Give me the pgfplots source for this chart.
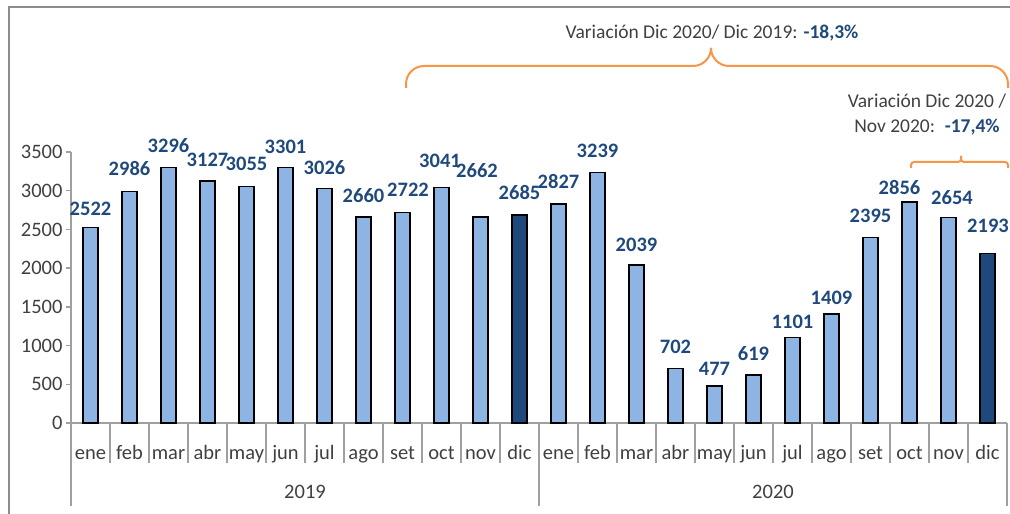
\documentclass[border=0pt]{standalone}
\usepackage{fontspec}
\setmainfont{Carlito}
\usepackage{pgfplots}
\usepackage{pgfplotstable}
\pgfplotsset{compat=1.18}
\definecolor{barlight}{HTML}{8DB4E2}
\definecolor{bardark}{HTML}{1F497D}
\definecolor{lbl}{HTML}{1F497D}
\definecolor{txt}{HTML}{404040}
\definecolor{br}{HTML}{F79646}
\definecolor{ax}{HTML}{A0A0A0}
\definecolor{framec}{HTML}{8C8C8C}
\pgfplotstableread{
x y dy dx
0 2522 12.7 0
1 2986 15.8 0
2 3296 14.8 0
3 3127 14 0
4 3055 15.5 0
5 3301 14.4 0
6 3026 14 0
7 2660 15 0
8 2722 16 5.5
9 3041 20.5 -1.5
10 2662 39 -3.5
12 2827 16 0
13 3239 15 0
14 2039 14 0
15 702 15.6 0
16 477 11 0
17 619 15 0
18 1101 9 0
19 1409 9 0
20 2395 14.6 0
21 2856 7 -10
22 2654 13.5 3.5
}\light
\pgfplotstableread{
x y dy dx
11 2685 16 0
23 2193 21 0.5
}\dark
\newcommand{\fs}{\fontsize{20.5}{24}\selectfont}
\begin{document}
\begin{tikzpicture}[x=1pt,y=1pt]
\path[use as bounding box] (0,0) rectangle (1010,514);
\draw[framec, line width=2pt] (9,-2) -- (9,507) -- (1012,507);
\begin{axis}[
 at={(71pt,91pt)}, anchor=south west,
 scale only axis, width=936pt, height=271pt,
 xmin=-0.5, xmax=23.5, ymin=0, ymax=3500,
 axis x line*=bottom, axis y line*=left,
 axis line style={ax, line width=1.3pt, -},
 ytick={0,500,...,3500},
 xtick={0,...,23},
 xticklabels={ene,feb,mar,abr,may,jun,jul,ago,set,oct,nov,dic,ene,feb,mar,abr,may,jun,jul,ago,set,oct,nov,dic},
 major x tick style={draw=none},
 major y tick style={ax, line width=1.3pt},
 tick align=outside,
 major tick length=5pt,
 ticklabel style={font=\fs, text=txt},
 xticklabel style={anchor=base, yshift=-32pt},
 /pgf/number format/assume math mode=true,
 /pgf/number format/1000 sep={},
 clip=false,
]
\addplot[ybar, bar width=15pt, bar shift=0pt, fill=barlight, draw=black, line width=1.3pt,
  nodes near coords,
  visualization depends on=\thisrow{dy} \as \dy,
  visualization depends on=\thisrow{dx} \as \dx,
  every node near coord/.append style={anchor=base, xshift=\dx pt, yshift=\dy pt, font=\fs\bfseries, text=lbl, line width=0pt}]
  table[x=x, y=y] {\light};
\addplot[ybar, bar width=15pt, bar shift=0pt, fill=bardark, draw=black, line width=1.3pt,
  nodes near coords,
  visualization depends on=\thisrow{dy} \as \dy,
  visualization depends on=\thisrow{dx} \as \dx,
  every node near coord/.append style={anchor=base, xshift=\dx pt, yshift=\dy pt, font=\fs\bfseries, text=lbl, line width=0pt}]
  table[x=x, y=y] {\dark};
\end{axis}
% category separators
\foreach \k in {1,...,11,13,14,...,23} {
  \draw[ax, line width=1.3pt] ({71+39*\k},91) -- ({71+39*\k},51);
}
\foreach \k in {0,12,24} {
  \draw[ax, line width=1.3pt] ({71+39*\k},91) -- ({71+39*\k},8);
}
\node[anchor=base, font=\fs, text=txt] at (305,15) {2019};
\node[anchor=base, font=\fs, text=txt] at (773,15) {2020};
% braces
\draw[br, line width=2pt, rounded corners=18pt] (406,426) -- (406,448) -- (711,448) -- (711,464);
\draw[br, line width=2pt, rounded corners=18pt] (711,464) -- (711,448) -- (1008,448) -- (1008,426);
\draw[br, line width=2pt, rounded corners=3pt] (911,346) -- (911,352) -- (961,352) -- (961,358);
\draw[br, line width=2pt, rounded corners=3pt] (961,358) -- (961,352) -- (1008,352) -- (1008,346);
% annotations
\node[anchor=base, font=\fontsize{19.5}{23}\selectfont, text=txt, inner sep=0pt] at (712,475) {Variación Dic 2020/ Dic 2019: \textcolor{lbl}{\bfseries -18,3\%}};
\node[anchor=base, font=\fontsize{19.5}{23}\selectfont, text=txt, inner sep=0pt] at (927,406) {Variación Dic 2020 /};
\node[anchor=base, font=\fontsize{19.5}{23}\selectfont, text=txt, inner sep=0pt] at (927,381) {Nov 2020:\enspace\textcolor{lbl}{\bfseries -17,4\%}};
\end{tikzpicture}
\end{document}
